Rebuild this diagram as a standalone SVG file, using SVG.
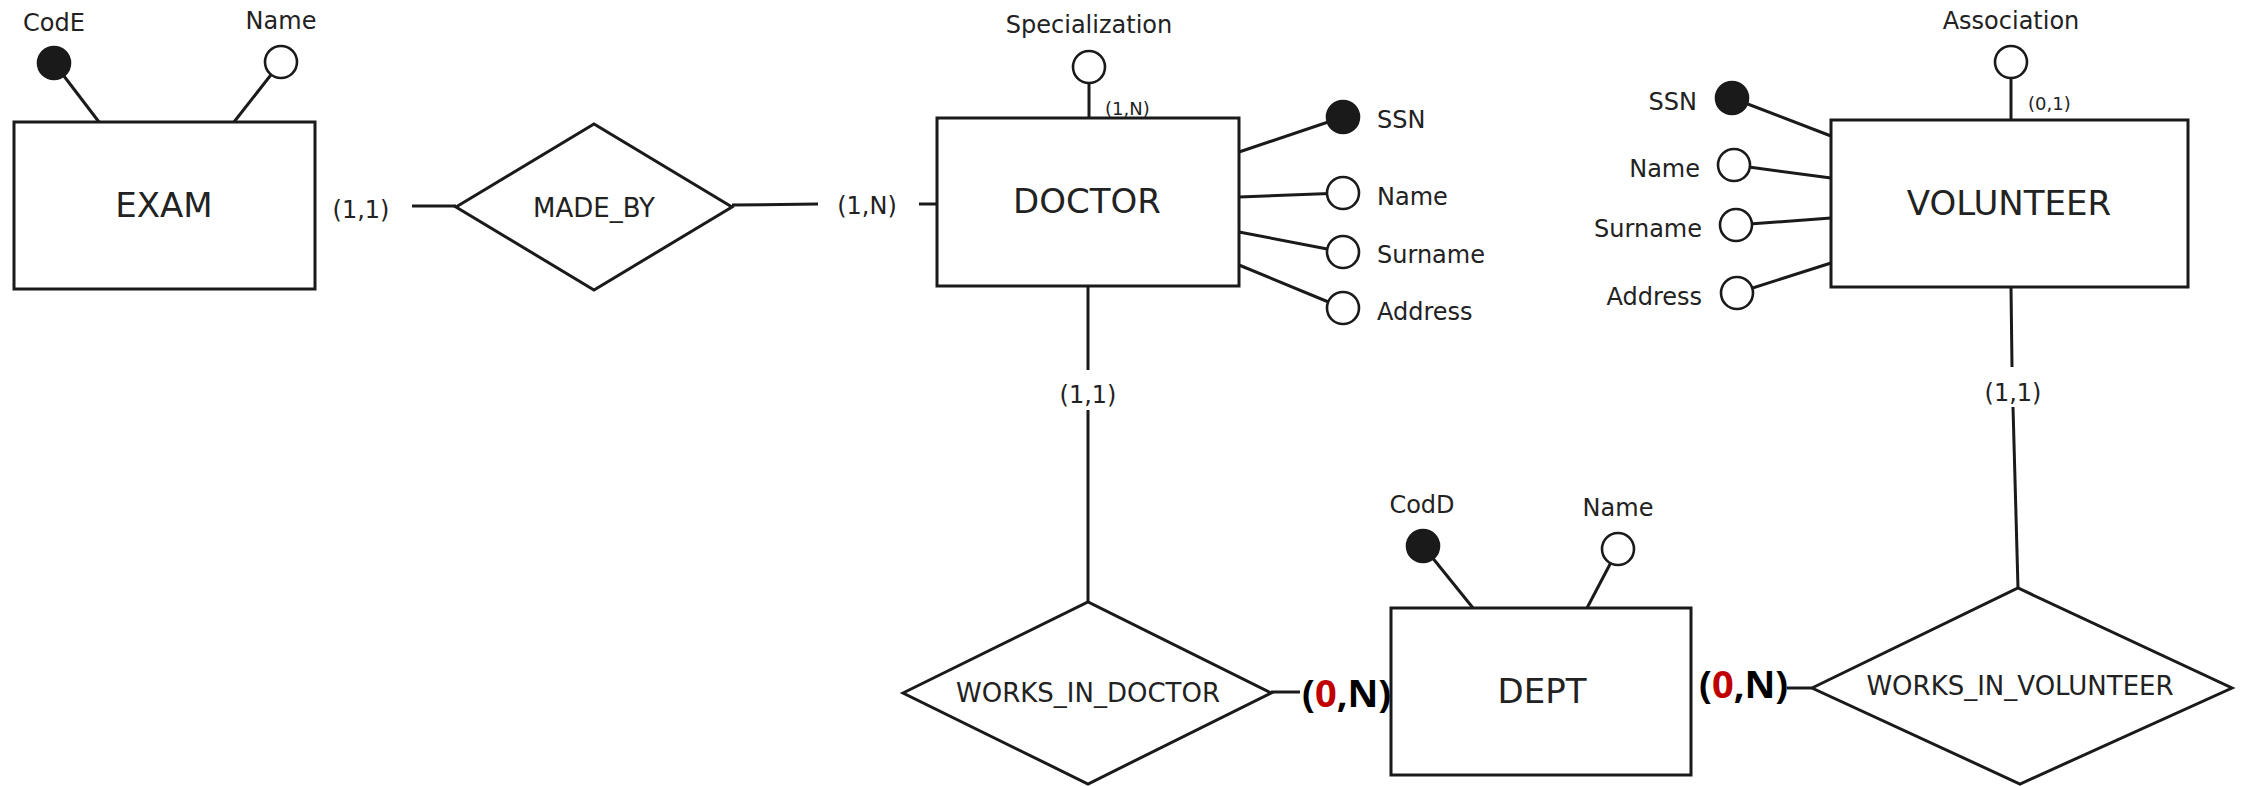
<svg xmlns="http://www.w3.org/2000/svg" width="2244" height="786" viewBox="0 0 2244 786">
<style>
.box{fill:#fff;stroke:#1a1a1a;stroke-width:3}
.ln{stroke:#1a1a1a;stroke-width:3;fill:none}
.att{fill:#fff;stroke:#1a1a1a;stroke-width:2.6}
.key{fill:#1a1a1a;stroke:#1a1a1a;stroke-width:2.6}
text{font-family:"DejaVu Sans","Noto Sans",sans-serif;fill:#222}
.ent{font-size:34px;text-anchor:middle}
.rel{font-size:26px;text-anchor:middle}
.lab{font-size:24px}
.mid{text-anchor:middle}
.end{text-anchor:end}
.card{font-size:24px;text-anchor:middle}
.small{font-size:18px}
.bold{font-family:"Open Sans","Noto Sans",sans-serif;font-weight:bold;font-size:38px;fill:#000}
.red{fill:#c00000}
</style>
<g id="connectors">
<line class="ln" x1="412" y1="206" x2="456" y2="206"/>
<line class="ln" x1="732" y1="205" x2="818" y2="204"/>
<line class="ln" x1="919" y1="204" x2="937" y2="204"/>
<line class="ln" x1="1088" y1="286" x2="1088" y2="370"/>
<line class="ln" x1="1088" y1="410" x2="1088" y2="602"/>
<line class="ln" x1="1271" y1="692" x2="1300" y2="692"/>
<line class="ln" x1="1787" y1="688" x2="1812" y2="688"/>
<line class="ln" x1="2011" y1="287" x2="2012" y2="367"/>
<line class="ln" x1="2013" y1="407" x2="2018" y2="588"/>
<text class="card" x="361" y="218">(1,1)</text>
<text class="card" x="867" y="214">(1,N)</text>
<text class="card" x="1088" y="403">(1,1)</text>
<text class="card" x="2013" y="401">(1,1)</text>
<text class="bold" x="1302" y="707">(<tspan class="red">0</tspan>,N)</text>
<text class="bold" x="1699" y="698">(<tspan class="red">0</tspan>,N)</text>
</g>
<g id="exam">
<rect class="box" x="14" y="122" width="301" height="167"/>
<text class="ent" x="164" y="217">EXAM</text>
<line class="ln" x1="54" y1="63" x2="99" y2="122"/>
<circle class="key" cx="54" cy="63" r="16"/>
<text class="lab mid" x="54" y="31">CodE</text>
<line class="ln" x1="281" y1="62" x2="234" y2="122"/>
<circle class="att" cx="281" cy="62" r="16"/>
<text class="lab mid" x="281" y="29">Name</text>
</g>
<g id="made_by">
<polygon class="box" points="456,207 594,124 732,207 594,290"/>
<text class="rel" x="594" y="217">MADE_BY</text>
</g>
<g id="doctor">
<rect class="box" x="937" y="118" width="302" height="168"/>
<text class="ent" x="1087" y="213">DOCTOR</text>
<line class="ln" x1="1089" y1="67" x2="1089" y2="118"/>
<circle class="att" cx="1089" cy="67" r="16"/>
<text class="lab mid" x="1089" y="33">Specialization</text>
<text class="small" x="1105" y="115">(1,N)</text>
<line class="ln" x1="1239" y1="152" x2="1343" y2="117"/>
<circle class="key" cx="1343" cy="117" r="16"/>
<text class="lab" x="1377" y="128">SSN</text>
<line class="ln" x1="1239" y1="197" x2="1343" y2="193"/>
<circle class="att" cx="1343" cy="193" r="16"/>
<text class="lab" x="1377" y="205">Name</text>
<line class="ln" x1="1239" y1="232" x2="1343" y2="252"/>
<circle class="att" cx="1343" cy="252" r="16"/>
<text class="lab" x="1377" y="263">Surname</text>
<line class="ln" x1="1239" y1="265" x2="1343" y2="308"/>
<circle class="att" cx="1343" cy="308" r="16"/>
<text class="lab" x="1377" y="320">Address</text>
</g>
<g id="volunteer">
<rect class="box" x="1831" y="120" width="357" height="167"/>
<text class="ent" x="2009" y="215">VOLUNTEER</text>
<line class="ln" x1="2011" y1="62" x2="2011" y2="120"/>
<circle class="att" cx="2011" cy="62" r="16"/>
<text class="lab mid" x="2011" y="29">Association</text>
<text class="small" x="2028" y="110">(0,1)</text>
<line class="ln" x1="1732" y1="98" x2="1831" y2="136"/>
<circle class="key" cx="1732" cy="98" r="16"/>
<text class="lab end" x="1697" y="110">SSN</text>
<line class="ln" x1="1734" y1="165" x2="1831" y2="178"/>
<circle class="att" cx="1734" cy="165" r="16"/>
<text class="lab end" x="1700" y="177">Name</text>
<line class="ln" x1="1736" y1="225" x2="1831" y2="218"/>
<circle class="att" cx="1736" cy="225" r="16"/>
<text class="lab end" x="1702" y="237">Surname</text>
<line class="ln" x1="1737" y1="293" x2="1831" y2="263"/>
<circle class="att" cx="1737" cy="293" r="16"/>
<text class="lab end" x="1702" y="305">Address</text>
</g>
<g id="works_in_doctor">
<polygon class="box" points="903,693 1088,602 1271,693 1088,784"/>
<text class="rel" x="1088" y="702">WORKS_IN_DOCTOR</text>
</g>
<g id="dept">
<rect class="box" x="1391" y="608" width="300" height="167"/>
<text class="ent" x="1542" y="703">DEPT</text>
<line class="ln" x1="1423" y1="546" x2="1473" y2="608"/>
<circle class="key" cx="1423" cy="546" r="16"/>
<text class="lab mid" x="1422" y="513">CodD</text>
<line class="ln" x1="1618" y1="549" x2="1587" y2="608"/>
<circle class="att" cx="1618" cy="549" r="16"/>
<text class="lab mid" x="1618" y="516">Name</text>
</g>
<g id="works_in_volunteer">
<polygon class="box" points="1812,688 2018,588 2232,688 2020,784"/>
<text class="rel" x="2020" y="695">WORKS_IN_VOLUNTEER</text>
</g>
</svg>
